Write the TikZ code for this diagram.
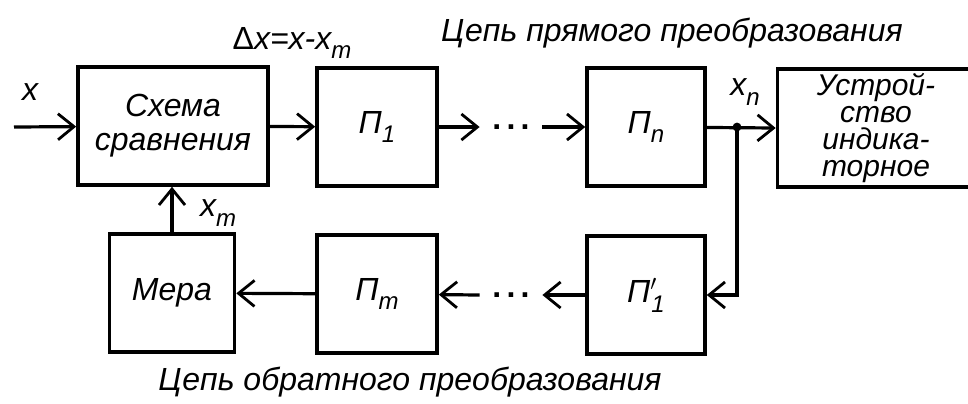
\documentclass[tikz,border=0pt]{standalone}
\usepackage{fontspec}
\setmainfont{Liberation Sans}
\usetikzlibrary{arrows.meta}
\newcommand{\lowidx}[1]{\raisebox{-0.55ex}{\fontsize{12}{12}\selectfont #1}}

\begin{document}
\begin{tikzpicture}[
    x=0.5pt, y=-0.5pt,
    every node/.style={font=\fontsize{16}{16}\selectfont\itshape},
    blk/.style={draw, line width=1.8pt, minimum height=59pt, inner sep=2pt, align=center},
    arr/.style={-{Straight Barb[length=8pt,width=13pt,line width=1.4pt]}, line width=1.6pt},
    dotbox/.style={minimum width=31pt, inner sep=0pt, font=\fontsize{16}{16}\selectfont\bfseries},
]
\useasboundingbox (0,0) rectangle (968,403);
\clip (0,0) rectangle (968,403);
% === Top: direct chain ===
\node at (672, 33) {Цепь прямого преобразования};
\node at (292, 43) {{\upshape Δ}x=x-x\lowidx{m}};
\coordinate (in) at (14, 127);
\node at (30, 92) {x};
\node[blk, minimum width=95pt] (cmp) at (173, 126) {Схема\\[1pt]сравнения};
\node[blk, minimum width=60pt] (p1) at (377, 127) {П\lowidx{1}};
\node[dotbox] (dt) at (511, 127) {.\hspace{2.6pt}.\hspace{2.6pt}.};
\node[blk, minimum width=59pt] (pn) at (646, 127) {П\lowidx{n}};
\node[blk, minimum width=98.5pt, font=\fontsize{15}{13.5}\selectfont\itshape] (ind) at (876, 128)
    {Устрой-\\ство\\индика-\\торное};
\coordinate (jn) at (737, 127);
\node at (745, 92) {x\lowidx{n}};
% arrows of the direct chain
\draw[arr] (in) -- (cmp);
\draw[arr] (cmp) -- (p1);
\draw[arr] (p1) -- (dt.west);
\draw[arr] (dt.east) -- (pn);
\draw[arr] (pn) -- (ind.west);
\fill (jn) circle (2.2pt);
% === Bottom: feedback chain ===
\node[blk, minimum width=62.5pt] (mera) at (172, 293) {Мера};
\node[blk, minimum width=60pt] (pm) at (377, 294) {П\lowidx{m}};
\node[dotbox] (db) at (511, 295) {.\hspace{2.6pt}.\hspace{2.6pt}.};
\node[blk, minimum width=59pt] (p1r) at (646, 295) {П$'$\hspace{-3pt}\lowidx{1}};
\node at (218, 213) {x\lowidx{m}};
\node at (410, 382) {Цепь обратного преобразования};
% arrows of the feedback chain
\draw[arr] (jn) |- (p1r.east);
\draw[arr] (p1r) -- (db.east);
\draw[arr] (db.west) -- (pm);
\draw[arr] (pm) -- (mera);
\draw[arr] (mera.north) -- (mera.north |- cmp.south);
\end{tikzpicture}
\end{document}
